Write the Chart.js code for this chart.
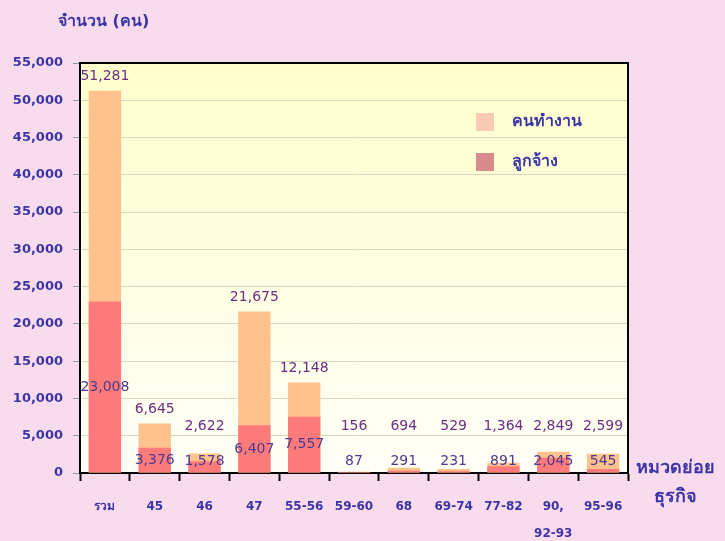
<!DOCTYPE html>
<html>
<head>
<meta charset="utf-8">
<script src="https://cdn.jsdelivr.net/npm/chart.js@4.4.0/dist/chart.umd.min.js"></script>
<style>
  html, body { margin: 0; padding: 0; background: #f9dbee; }
  #wrap { width: 725px; height: 541px; }
</style>
</head>
<body>
<div id="wrap"><canvas id="chart_employ"></canvas></div>
<script>
// ข้อมูลจากกราฟ
const categories = ['รวม', '45', '46', '47', '55-56', '59-60', '68', '69-74', '77-82', ['90,', '92-93'], '95-96'];
const workers = [51281, 6645, 2622, 21675, 12148, 156, 694, 529, 1364, 2849, 2599];
const employees = [23008, 3376, 1578, 6407, 7557, 87, 291, 231, 891, 2045, 545];
const seriesNames = ['คนทำงาน', 'ลูกจ้าง'];
const yTitle = 'จำนวน (คน)';
const xTitle = ['หมวดย่อย', 'ธุรกิจ'];

const FONT = "Tahoma, 'DejaVu Sans', 'Noto Sans', sans-serif";
const blue = '#3b34a6';
const cores = ['#ffc28c', '#ff7b7b'];
const legendCores = ['#f9cbb2', '#d98b8b'];

const fmt = v => v.toLocaleString('en-US');

const plotBg = {
  id: 'plotBg',
  beforeDraw(chart) {
    const { ctx, chartArea: a } = chart;
    const g = ctx.createLinearGradient(0, a.top, 0, a.bottom);
    g.addColorStop(0, '#ffffcc');
    g.addColorStop(1, '#fffff8');
    ctx.save();
    ctx.fillStyle = g;
    ctx.fillRect(a.left, a.top, a.right - a.left, a.bottom - a.top);
    ctx.restore();
  }
};

const extras = {
  id: 'extras',
  afterDraw(chart) {
    const { ctx, chartArea: a } = chart;
    const yS = chart.scales.y;
    ctx.save();

    // กรอบด้านบน / ขวา
    ctx.strokeStyle = '#000';
    ctx.lineWidth = 2;
    ctx.beginPath();
    ctx.moveTo(a.left, a.top);
    ctx.lineTo(a.right, a.top);
    ctx.lineTo(a.right, a.bottom);
    ctx.stroke();

    // ตัวเลขบนแท่ง
    ctx.font = '14px ' + FONT;
    ctx.textAlign = 'center';
    ctx.textBaseline = 'middle';
    const mW = chart.getDatasetMeta(0);
    const mE = chart.getDatasetMeta(1);
    mW.data.forEach((bar, i) => {
      const ty = Math.min(bar.y - 14, yS.getPixelForValue(6300));
      ctx.fillStyle = '#6b2e80';
      ctx.fillText(fmt(workers[i]), bar.x, ty);
    });
    mE.data.forEach((bar, i) => {
      const ty = Math.min((bar.y + bar.base) / 2, yS.getPixelForValue(1500));
      ctx.fillStyle = '#4b3a8f';
      ctx.fillText(fmt(employees[i]), bar.x, ty);
    });

    // คำอธิบายสัญลักษณ์
    ctx.font = 'bold 16px ' + FONT;
    ctx.textAlign = 'left';
    seriesNames.forEach((name, i) => {
      const y = 122 + i * 40;
      ctx.fillStyle = legendCores[i];
      ctx.fillRect(476, y - 9, 18, 18);
      ctx.fillStyle = blue;
      ctx.fillText(name, 512, y);
    });

    // ชื่อแกน
    ctx.font = 'bold 16px ' + FONT;
    ctx.textAlign = 'left';
    ctx.fillText(yTitle, 58, 22);
    ctx.font = 'bold 18px ' + FONT;
    ctx.textAlign = 'center';
    ctx.fillText(xTitle[0], 675, 468);
    ctx.fillText(xTitle[1], 675, 497);
    ctx.restore();
  }
};

const ctx = document.getElementById('chart_employ');

new Chart(ctx, {
  type: 'bar',
  data: {
    labels: categories,
    datasets: [
      {
        label: seriesNames[0],
        data: workers,
        backgroundColor: cores[0],
        grouped: false,
        order: 2,
        barPercentage: 0.65,
        categoryPercentage: 1
      },
      {
        label: seriesNames[1],
        data: employees,
        backgroundColor: cores[1],
        grouped: false,
        order: 1,
        barPercentage: 0.65,
        categoryPercentage: 1
      }
    ]
  },
  options: {
    responsive: true,
    maintainAspectRatio: false,
    animation: false,
    layout: { padding: { top: 63, right: 97, left: 0, bottom: 0 } },
    plugins: {
      legend: { display: false },
      tooltip: { enabled: false }
    },
    scales: {
      x: {
        afterFit: s => { s.height = 68; },
        border: { color: '#000', width: 2 },
        grid: {
          offset: true,
          drawOnChartArea: false,
          tickColor: '#000',
          tickWidth: 2,
          tickLength: 8
        },
        ticks: {
          color: blue,
          padding: 12,
          maxRotation: 0,
          autoSkip: false,
          font: { family: FONT, size: 12, weight: 'bold', lineHeight: 2.25 }
        }
      },
      y: {
        min: 0,
        max: 55000,
        afterFit: s => { s.width = 80; },
        border: { color: '#000', width: 2 },
        grid: {
          color: '#d8d6bc',
          tickColor: '#999',
          tickLength: 7
        },
        ticks: {
          stepSize: 5000,
          color: blue,
          padding: 10,
          font: { family: FONT, size: 13, weight: 'bold' },
          callback: v => fmt(v)
        }
      }
    }
  },
  plugins: [plotBg, extras]
});
</script>
</body>
</html>
